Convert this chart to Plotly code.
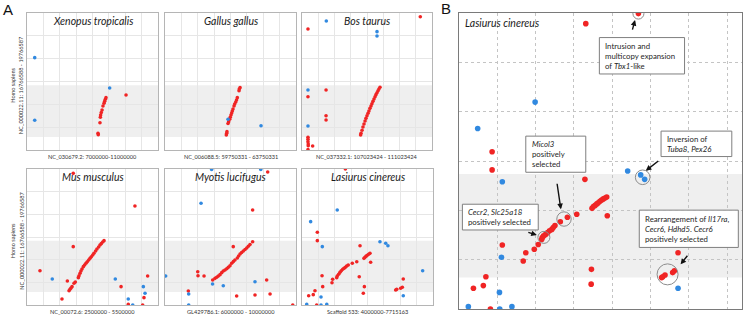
import plotly.graph_objects as go

W, H = 743, 316
FONT = "Lato"
RED = "#f02424"
BLUE = "#3189e0"

# ---------------- DATA (positions in % of each plotted window) ----------------
species = ["Xenopus tropicalis", "Gallus gallus", "Bos taurus",
           "Mus musculus", "Myotis lucifugus", "Lasiurus cinereus"]
x_labels = ["NC_030679.2: 7000000-11000000", "NC_006088.5: 59750331 - 63750331",
            "NC_037332.1: 107023424 - 111023424", "NC_00072.6: 2500000 - 5500000",
            "GL429786.1: 6000000 - 10000000", "Scaffold 533: 4000000-7715163"]
y_label_top = "Homo sapiens"
y_label_bottom = "NC_000022.11: 16766588 - 19766587"

xen_red = [(75.6, 40.1), (60.3, 38.2), (59.8, 37.0), (59.3, 35.5), (58.8, 34.1), (58.0, 32.1),
           (57.3, 29.2), (56.7, 27.3), (56.2, 25.5), (56.0, 23.9), (55.7, 19.9), (54.2, 12.2), (54.4, 11.2)]
xen_blue = [(5.9, 67.4), (5.9, 21.7), (63.1, 45.3)]

gal_red = [(57.3, 45.5), (56.7, 44.5), (56.5, 43.3), (55.2, 38.2), (54.6, 36.5), (54.0, 35.0),
           (53.2, 33.6), (52.7, 32.1), (51.9, 29.9), (51.4, 28.5), (50.9, 27.0), (50.4, 25.5),
           (49.8, 23.9), (49.4, 22.4), (48.6, 20.7), (48.1, 19.3), (47.3, 13.4), (47.1, 12.2), (46.8, 10.9)]
gal_blue = [(48.1, 22.4), (73.3, 17.7)]

bos_red = [(60.0, 45.8), (59.2, 44.5), (58.5, 43.3), (57.7, 41.8), (56.9, 40.4), (56.2, 38.9),
           (55.4, 37.2), (54.6, 35.5), (53.8, 33.8), (53.1, 32.1), (52.3, 30.4), (51.5, 28.5),
           (50.8, 26.8), (50.0, 25.0), (49.2, 23.1), (48.5, 21.2), (47.7, 19.0), (46.9, 16.8),
           (46.2, 14.4), (45.4, 12.2), (45.1, 10.9),
           (91.0, 97.3), (4.6, 88.3), (18.5, 43.8), (4.6, 38.9), (18.5, 25.0), (18.5, 21.9),
           (4.6, 9.3), (4.6, 7.8), (4.6, 6.1), (4.8, 4.4), (4.8, 3.1), (8.2, 2.9), (4.6, 0.4)]
bos_blue = [(18.7, 94.2), (57.7, 86.4), (57.7, 83.2), (4.6, 43.8), (4.6, 17.5)]

mus_red = [(58.8, 47.3), (57.8, 46.3), (56.7, 45.1), (55.7, 44.1), (54.7, 42.6), (53.4, 41.2),
           (52.4, 39.7), (51.1, 38.0), (50.2, 36.8), (49.1, 35.5), (48.1, 34.3), (47.1, 33.1),
           (46.0, 31.8), (45.0, 30.7), (44.0, 29.4), (43.0, 28.2), (42.0, 26.5), (41.2, 25.0),
           (40.5, 23.3), (39.7, 21.5), (39.2, 20.1), (36.9, 16.9), (35.9, 16.0), (34.4, 13.5),
           (33.6, 12.5), (32.8, 11.5), (32.1, 10.5),
           (35.3, 96.8), (82.4, 72.8), (35.3, 42.9), (9.9, 25.2), (30.8, 17.6), (92.1, 21.3),
           (71.8, 13.5), (89.3, 5.4), (26.7, 4.4), (77.3, 0.5), (88.3, 0.0)]
mus_blue = [(19.3, 19.1), (67.4, 19.1), (88.8, 13.5), (90.1, 8.6), (77.3, 4.4), (80.7, 0.0)]

myo_red = [(36.4, 18.4), (38.2, 19.6), (39.5, 20.4), (40.7, 21.3), (42.0, 22.3), (43.3, 23.8),
           (44.5, 25.0), (45.8, 25.7), (47.1, 26.7), (48.3, 27.7), (49.6, 28.9), (50.9, 30.7),
           (52.2, 31.9), (53.4, 33.1), (55.2, 34.6), (56.2, 36.0), (57.3, 37.5), (58.5, 38.6),
           (59.8, 39.7), (61.1, 40.8), (62.4, 41.9), (63.6, 43.2), (64.9, 44.5),
           (25.0, 24.5), (25.2, 21.5), (29.8, 21.3), (17.8, 10.3), (54.7, 6.6), (52.1, 42.9),
           (66.9, 69.9), (66.9, 46.5), (77.6, 18.4), (68.7, 7.4), (80.2, 8.1), (97.5, 0.0), (78.4, 97.8)]
myo_blue = [(27.5, 74.8), (0.5, 21.3), (36.3, 15.4), (18.1, 8.1), (18.1, 0.0), (44.5, 14.2),
            (68.7, 17.1), (35.6, 99.6), (73.1, 99.6)]

las_red = [(33.1, 100.0), (11.7, 53.5), (11.7, 47.3), (44.3, 43.6), (52.4, 31.4),
           (51.9, 38.0), (50.9, 37.3), (49.8, 36.5), (48.9, 35.8), (48.1, 35.1), (47.3, 34.3),
           (41.8, 31.8), (38.4, 30.7),
           (35.3, 29.4), (34.1, 28.7), (33.1, 27.7), (32.1, 27.0), (31.1, 26.3), (30.0, 25.2),
           (29.0, 24.0), (28.0, 22.6), (26.9, 21.3), (26.5, 20.1),
           (23.4, 18.9), (22.9, 16.4), (15.3, 21.5), (43.7, 20.8), (47.6, 13.5), (46.8, 8.6),
           (77.3, 19.1), (76.6, 13.0), (75.3, 12.3), (72.3, 11.5), (71.5, 11.0), (15.8, 13.5),
           (9.9, 10.5), (8.6, 7.6), (5.1, 6.8), (11.2, 0.0)]
las_blue = [(26.9, 69.9), (6.6, 61.3), (15.5, 42.9), (59.5, 46.5), (63.9, 45.4), (65.6, 43.6),
            (92.1, 25.2), (77.3, 6.8), (14.5, 5.9), (3.6, 0.5), (14.5, 0.0), (18.9, 0.5)]

# Panel B (zoomed Lasiurus cinereus)
pb_red = [(44.8, 96.4), (63.4, 99.8), (11.7, 53.1), (11.7, 47.0), (44.5, 43.8), (52.4, 31.5), (41.6, 32.0),
          (47.0, 34.0), (47.5, 34.6), (48.1, 35.0), (48.7, 35.5), (49.2, 35.9), (49.8, 36.4),
          (50.4, 36.8), (51.0, 37.2), (51.6, 37.5), (52.2, 37.8),
          (38.3, 31.0), (35.8, 29.5),
          (33.9, 28.2), (33.3, 27.5), (32.8, 26.9), (32.0, 26.4), (31.3, 25.8), (30.6, 25.2),
          (29.9, 24.7), (29.4, 24.1), (29.2, 23.5),
          (28.0, 21.8), (26.6, 20.2), (23.6, 19.0), (22.7, 16.2), (15.3, 21.6), (9.5, 10.9),
          (8.6, 7.9), (5.1, 7.0), (11.1, 0.0), (46.8, 13.4), (46.7, 8.4), (77.4, 19.0),
          (76.1, 12.9), (75.5, 12.3), (72.8, 11.5), (72.0, 10.9), (71.6, 10.6)]
pb_blue = [(26.9, 69.9), (6.6, 61.0), (15.3, 43.0), (59.6, 46.6), (64.2, 45.3), (65.6, 43.8),
           (15.0, 17.5), (14.3, 5.6), (3.3, 0.8), (14.4, 0.0), (18.7, 0.8), (77.4, 7.0)]

# conserved-region band (Homo sapiens y-range, %)
band_a = (9.5, 47.3)
band_b = (10.6, 45.6)

# annotations of panel B
notes = [
    ("Intrusion and<br>multicopy expansion<br>of <i>Tbx1</i>-like", (49.6, 79.7, 79.4, 91.7)),
    ("Inversion of<br><i>Tuba8</i>, <i>Pex26</i>", (71.4, 96.4, 51.5, 60.1)),
    ("<i>Micol3</i><br>positively<br>selected", (23.6, 44.8, 46.2, 58.4)),
    ("<i>Cecr2</i>, <i>Slc25a18</i><br>positively selected", (1.2, 28.0, 26.7, 35.4)),
    ("Rearrangement of <i>Il17ra</i>,<br><i>Cecr6</i>, <i>Hdhd5</i>. <i>Cecr6</i><br>positively selected",
     (63.7, 98.7, 20.8, 33.4)),
]
circles = [(63.4, 99.8, 5.5), (64.9, 44.5, 7.3), (37.1, 30.4, 7.2), (30.0, 24.2, 6.0), (73.7, 11.7, 10.5)]
arrows = [(62.2, 97.6, -3, 11), (66.0, 46.7, 14, -11), (36.0, 33.7, -4, -27),
          (27.5, 25.0, -10, -3), (78.3, 15.1, 8, -10)]

# ---------------- LAYOUT ----------------
# panel boxes in px: (left, right, top, bottom)
boxes = [(27, 158, 13, 150), (165, 296, 13, 150), (302, 432, 13, 150),
         (27, 158, 169, 305), (165, 296, 169, 305), (302, 433, 169, 305)]
box_b = (459, 742, 13, 309)
reds = [xen_red, gal_red, bos_red, mus_red, myo_red, las_red]
blues = [xen_blue, gal_blue, bos_blue, mus_blue, myo_blue, las_blue]

fig = go.Figure()
layout = dict(width=W, height=H, margin=dict(l=0, r=0, t=0, b=0),
              paper_bgcolor="white", plot_bgcolor="white", showlegend=False)
shapes, annotations = [], []


def ax_id(i):
    return "" if i == 1 else str(i)


def add_points(pts, color, size, i):
    fig.add_trace(go.Scatter(x=[p[0] for p in pts], y=[p[1] for p in pts], mode="markers",
                             marker=dict(color=color, size=size, line=dict(width=0)),
                             xaxis="x" + ax_id(i), yaxis="y" + ax_id(i), hoverinfo="skip"))


for k, (l, r, t, b) in enumerate(boxes):
    i = k + 1
    s = ax_id(i)
    add_points(reds[k], RED, 3.6, i)
    add_points(blues[k], BLUE, 3.6, i)
    layout["xaxis" + s] = dict(domain=[l / W, r / W], range=[0, 100], anchor="y" + s,
                               tickvals=[12.5 * j for j in range(1, 8)], showticklabels=False,
                               showgrid=True, gridcolor="#e6e6e6", gridwidth=1, zeroline=False,
                               showline=True, mirror=True, linecolor="#b5b5b5", linewidth=1, ticks="")
    layout["yaxis" + s] = dict(domain=[1 - b / H, 1 - t / H], range=[0, 100], anchor="x" + s,
                               tickvals=[100 / 6 * j for j in range(1, 6)], showticklabels=False,
                               showgrid=True, gridcolor="#e6e6e6", gridwidth=1, zeroline=False,
                               showline=True, mirror=True, linecolor="#b5b5b5", linewidth=1, ticks="")
    shapes.append(dict(type="rect", xref="x" + s + " domain", yref="y" + s, x0=0, x1=1,
                       y0=band_a[0], y1=band_a[1], fillcolor="#efefef", line_width=0, layer="below"))
    annotations.append(dict(text=f"<i>{species[k]}</i>", xref="x" + s + " domain", yref="paper",
                            x=0.5, y=1 - (t + 8) / H, showarrow=False, yanchor="middle",
                            font=dict(family=FONT, size=10.5, color="#1a1a1a")))
    annotations.append(dict(text=x_labels[k], xref="x" + s + " domain", yref="paper", x=0.5,
                            y=1 - (b + 6.5) / H, showarrow=False, yanchor="middle",
                            font=dict(family=FONT, size=5.6, color="#333")))

for t, b in [(13, 150), (169, 305)]:
    yc = 1 - ((t + b) / 2 + 4) / H
    annotations.append(dict(text=y_label_top, xref="paper", yref="paper", x=12.3 / W, y=yc,
                            textangle=-90, showarrow=False, xanchor="center", yanchor="middle",
                            font=dict(family=FONT, size=5.6, color="#333")))
    annotations.append(dict(text=y_label_bottom, xref="paper", yref="paper", x=20.7 / W, y=yc,
                            textangle=-90, showarrow=False, xanchor="center", yanchor="middle",
                            font=dict(family=FONT, size=5.6, color="#333")))

# Panel B
l, r, t, b = box_b
add_points(pb_red, RED, 5.6, 7)
add_points(pb_blue, BLUE, 5.6, 7)
layout["xaxis7"] = dict(domain=[l / W, r / W], range=[0, 100], anchor="y7",
                        tickvals=[13.53 * j for j in range(1, 8)], showticklabels=False,
                        showgrid=True, gridcolor="#c4c4c4", griddash="dot", gridwidth=1, zeroline=False,
                        showline=True, mirror=True, linecolor="#7a7a7a", linewidth=1.2, ticks="")
layout["yaxis7"] = dict(domain=[1 - b / H, 1 - t / H], range=[0, 100], anchor="x7",
                        tickvals=[100 / 6 * j for j in range(1, 6)], showticklabels=False,
                        showgrid=True, gridcolor="#c4c4c4", griddash="dot", gridwidth=1, zeroline=False,
                        showline=True, mirror=True, linecolor="#7a7a7a", linewidth=1.2, ticks="")
shapes.append(dict(type="rect", xref="x7 domain", yref="y7", x0=0, x1=1, y0=band_b[0], y1=band_b[1],
                   fillcolor="#efefef", line_width=0, layer="below"))
annotations.append(dict(text="<i>Lasiurus cinereus</i>", xref="paper", yref="paper", x=(l + 3.5) / W,
                        y=1 - 23.3 / H, xanchor="left", yanchor="middle", showarrow=False,
                        font=dict(family=FONT, size=10.5, color="#1a1a1a")))

for cx, cy, rad in circles:
    shapes.append(dict(type="circle", xref="x7", yref="y7", xsizemode="pixel", ysizemode="pixel",
                       xanchor=cx, yanchor=cy, x0=-rad, x1=rad, y0=-rad, y1=rad,
                       line=dict(color="#8c8c8c", width=1), fillcolor="rgba(0,0,0,0)", layer="above"))
for text, (x0, x1, y0, y1) in notes:
    shapes.append(dict(type="rect", xref="x7", yref="y7", x0=x0, x1=x1, y0=y0, y1=y1,
                       fillcolor="white", line=dict(color="#7f7f7f", width=1), layer="above"))
    annotations.append(dict(text=text, xref="x7", yref="y7", x=x0 + 1.4, y=(y0 + y1) / 2,
                            xanchor="left", yanchor="middle", align="left", showarrow=False,
                            font=dict(family=FONT, size=7.8, color="#262626")))
for x, y, ax, ay in arrows:
    annotations.append(dict(text="", xref="x7", yref="y7", x=x, y=y, ax=ax, ay=ay, showarrow=True,
                            arrowhead=2, arrowsize=0.8, arrowwidth=1.4, arrowcolor="#111", standoff=0))

annotations.append(dict(text="A", xref="paper", yref="paper", x=8 / W, y=1 - 9 / H, showarrow=False,
                        xanchor="center", yanchor="middle",
                        font=dict(family="Liberation Sans", size=15, color="#111")))
annotations.append(dict(text="B", xref="paper", yref="paper", x=446 / W, y=1 - 8 / H, showarrow=False,
                        xanchor="center", yanchor="middle",
                        font=dict(family="Liberation Sans", size=15, color="#111")))

layout["shapes"] = shapes
layout["annotations"] = annotations
fig.update_layout(**layout)
fig.write_html("out.html", config={"displayModeBar": False},
               post_script="document.body.style.margin='0';")
